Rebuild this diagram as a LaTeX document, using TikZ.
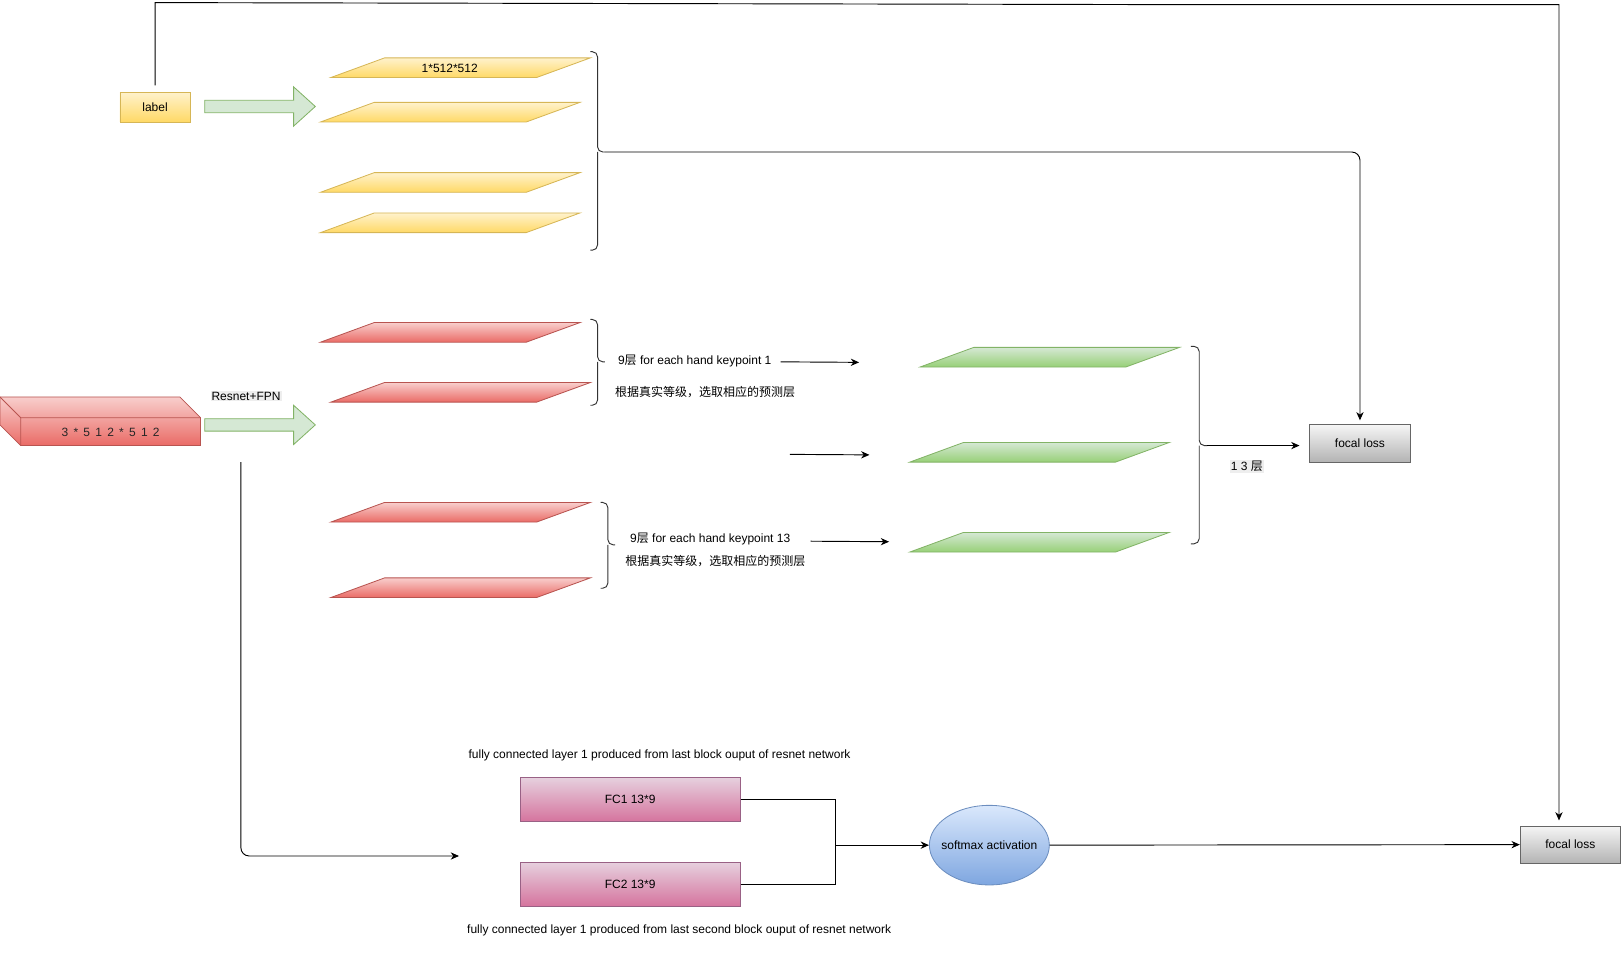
\documentclass[tikz,border=0pt]{standalone}
\usepackage{fontspec}
\setmainfont{Liberation Sans}
\newfontfamily\cjk{Noto Sans CJK SC}
\usetikzlibrary{arrows.meta,calc,shapes.geometric}
\definecolor{yA}{HTML}{FFF2CC}\definecolor{yB}{HTML}{FFD966}\definecolor{yS}{HTML}{D6B656}
\definecolor{rA}{HTML}{F8CECC}\definecolor{rB}{HTML}{EA6B66}\definecolor{rS}{HTML}{B85450}
\definecolor{gA}{HTML}{D5E8D4}\definecolor{gB}{HTML}{97D077}\definecolor{gS}{HTML}{82B366}
\definecolor{kA}{HTML}{F5F5F5}\definecolor{kB}{HTML}{B3B3B3}\definecolor{kS}{HTML}{666666}
\definecolor{pA}{HTML}{E6D0DE}\definecolor{pB}{HTML}{D5739D}\definecolor{pS}{HTML}{996185}
\definecolor{bA}{HTML}{DAE8FC}\definecolor{bB}{HTML}{7EA6E0}\definecolor{bS}{HTML}{6C8EBF}
\definecolor{lbl}{HTML}{EEEEEE}
\tikzset{
  txt/.style={font=\fontsize{11.6}{13}\selectfont, inner sep=0pt, text=black},
  conn/.style={line width=0.9pt, draw=black},
  arr/.style={conn, -{Stealth[length=8pt,width=7pt,inset=2.5pt]}},
  bracestyle/.style={line width=0.9pt, draw=black!80, rounded corners=5pt},
  yfill/.style={draw=yS, top color=yA, bottom color=yB, line width=0.8pt},
  rfill/.style={draw=rS, top color=rA, bottom color=rB, line width=0.8pt},
  gfill/.style={draw=gS, top color=gA, bottom color=gB, line width=0.8pt},
  kfill/.style={draw=kS, top color=kA, bottom color=kB, line width=0.8pt},
  pfill/.style={draw=pS, top color=pA, bottom color=pB, line width=0.8pt},
  bfill/.style={draw=bS, top color=bA, bottom color=bB, line width=0.8pt},
  blockarrow/.style={draw=gS, fill=gA, line width=0.8pt},
}
\newcommand{\plane}[3]{\path[#3] (#1,#2) -- ++(199,0) -- ++(-52,19) -- ++(-199,0) -- cycle;}
% x0, ytop, ymid, ybot, half width
\newcommand{\mybrace}[5]{%
  \draw[bracestyle] (#1,#2) -- ({#1+#5},#2) -- ({#1+#5},#3) -- ({#1+2*#5},#3);
  \draw[bracestyle] ({#1+#5},#3) -- ({#1+#5},#4) -- (#1,#4);}
\begin{document}
\begin{tikzpicture}[x=1pt,y=-1pt]
\useasboundingbox (0,0) rectangle (1568,922);

% label and block arrows
\node[yfill, txt, minimum width=68pt, minimum height=29pt] (label) at (150,103.5) {label};
\path[blockarrow] (198,97) -- (284,97) -- (284,84) -- (305,103) -- (284,122) -- (284,109) -- (198,109) -- cycle;
\path[blockarrow] (198,405) -- (284,405) -- (284,392) -- (305,411) -- (284,430) -- (284,417) -- (198,417) -- cycle;

% yellow planes
\plane{372}{56}{yfill}
\plane{362}{99}{yfill}
\plane{362}{167}{yfill}
\plane{362}{206}{yfill}
\node[txt] (dim) at (435,66) {1*512*512};

% red planes
\plane{362}{312}{rfill}
\plane{372}{370}{rfill}
\plane{372}{486}{rfill}
\plane{372}{559}{rfill}

% green planes
\plane{942}{336}{gfill}
\plane{932}{428}{gfill}
\plane{932}{515}{gfill}

% cube
\path[rfill] (0,384) -- (174,384) -- (194,404) -- (194,431) -- (20,431) -- (0,411) -- cycle;
\draw[draw=rS, line width=0.8pt] (0,384) -- (20,404) -- (194,404) (20,404) -- (20,431);
\node[txt, text=black!85] (img) at (107,418) {\addfontfeature{LetterSpace=16}3 * 5 1 2 * 5 1 2};
\node[txt, fill=lbl, inner sep=1pt] (resnet) at (238,383) {Resnet+FPN};

% braces
\mybrace{571}{50}{147}{242}{7}
\mybrace{571}{309}{350}{392}{7}
\mybrace{581}{486}{527}{569}{7}
\mybrace{1152}{335}{431}{526}{8}
\coordinate (ytip) at (585,147);
\coordinate (gtip) at (1168,431);

% texts
\node[txt] (kp1) at (672,349) {9{\cjk 层} for each hand keypoint 1};
\node[txt] (sel1) at (682,379) {\cjk 根据真实等级，选取相应的预测层};
\node[txt] (kp13) at (687,521) {9{\cjk 层} for each hand keypoint 13};
\node[txt] (sel13) at (692,543) {\cjk 根据真实等级，选取相应的预测层};
\node[txt, fill=lbl, inner sep=1pt] (n13) at (1206,451) {1 3 {\cjk 层}};

% free arrows
\coordinate (a1s) at (755,350); \coordinate (a1e) at (831,350.5);
\coordinate (a2s) at (764,439.5); \coordinate (a2e) at (841,440);
\coordinate (a3s) at (784,523.5); \coordinate (a3e) at (860,524);
\draw[arr] (a1s) -- (a1e);
\draw[arr] (a2s) -- (a2e);
\draw[arr] (a3s) -- (a3e);

% focal loss boxes
\node[kfill, txt, minimum width=97pt, minimum height=36pt] (fl1) at (1315.5,429) {focal loss};
\node[kfill, txt, minimum width=97pt, minimum height=36pt] (fl2) at (1519,817) {focal loss};

\draw[arr, rounded corners=8pt, shorten >=4pt] (ytip) -| (fl1.north);
\coordinate (gend) at (1257,431);
\draw[arr] (gtip) -- (gend);

% top connector
\draw[arr, shorten >=5pt] ($(label.north)+(0,-6)$) -- (150,2.5) -- (1150,4.5) -- (1508,4.5) -- (1508,4.5 |- fl2.north);

% lower branch
\coordinate (v0) at (233,447);
\coordinate (v1) at (444,828);
\draw[arr, rounded corners=8pt] (v0) |- (v1);

\node[txt] (fc1t) at (638,731) {fully connected layer 1 produced from last block ouput of resnet network};
\node[pfill, txt, minimum width=213pt, minimum height=43pt] (fc1) at (609.5,773.5) {FC1 13*9};
\node[pfill, txt, minimum width=213pt, minimum height=43pt] (fc2) at (609.5,855.5) {FC2 13*9};
\node[txt] (fc2t) at (657,900) {fully connected layer 1 produced from last second block ouput of resnet network};
\node[bfill, ellipse, minimum width=116pt, minimum height=77pt, inner sep=0pt] (soft) at (957,817.5) {};
\node[txt] (softt) at (soft.center) {softmax activation};
\coordinate (j) at (808,817.5);
\draw[conn] (fc1.east) -| (j);
\draw[conn] (fc2.east) -| (j);
\draw[arr] (j) -- (soft.west);
\draw[arr] (soft.east) -- (fl2.west);
\end{tikzpicture}
\end{document}
